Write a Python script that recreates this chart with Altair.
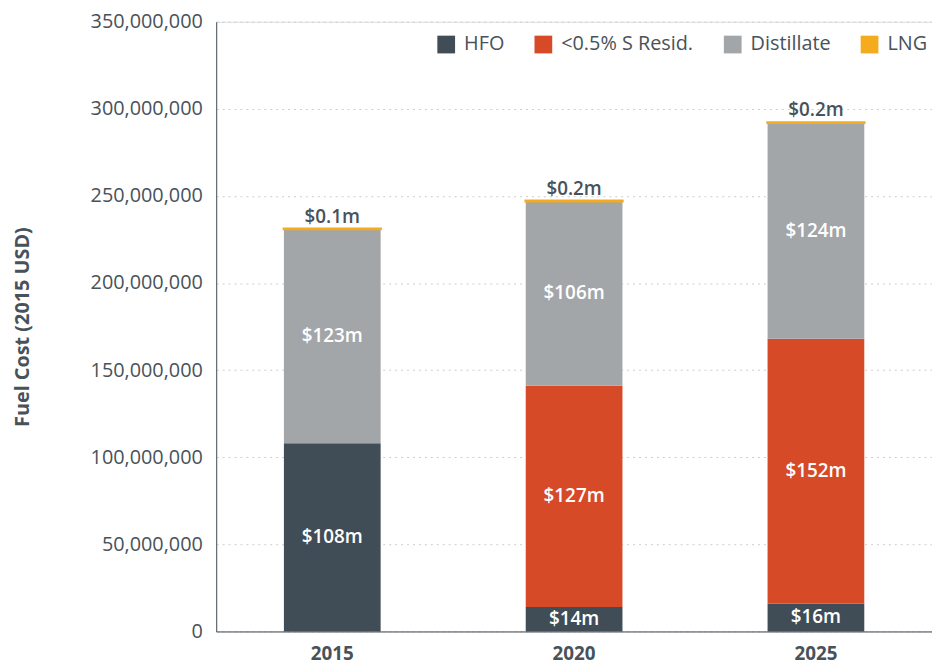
import altair as alt
import pandas as pd

years = ["2015", "2020", "2025"]
fuels = ["HFO", "<0.5% S Resid.", "Distillate", "LNG"]
hfo = [108, 14, 16]
resid = [0, 127, 152]
distillate = [123, 106, 124]
lng = [0.1, 0.2, 0.2]
colors = ["#414d56", "#d64a27", "#a3a6a9", "#f5ab1e"]

series = {"HFO": hfo, "<0.5% S Resid.": resid, "Distillate": distillate, "LNG": lng}
rows = []
for i, y in enumerate(years):
    base = 0.0
    for k, f in enumerate(fuels):
        v = series[f][i]
        rows.append({
            "year": y, "fuel": f, "order": k,
            "lo": base * 1e6, "hi": (base + v) * 1e6,
            "mid": (base + v / 2) * 1e6,
            "label": f"${v:g}m" if v > 0 else "",
        })
        base += v
df = pd.DataFrame(rows)

FONT = "Open Sans"
TXT = "#48525a"

xenc = alt.X("year:N", title=None, sort=years,
             scale=alt.Scale(paddingInner=0.6, paddingOuter=0.28),
             axis=alt.Axis(labelAngle=0, labelFontSize=19, labelFontWeight="bold",
                           labelColor=TXT, labelFont=FONT, ticks=False,
                           domainColor="#48525a", labelPadding=13))

bars = alt.Chart(df).mark_bar().encode(
    x=xenc,
    y=alt.Y("lo:Q", title="Fuel Cost (2015 USD)",
            scale=alt.Scale(domain=[0, 350e6]),
            axis=alt.Axis(values=[i * 50e6 for i in range(8)], format=",.0f",
                          labelFontSize=20, labelColor=TXT, labelFont=FONT,
                          titleFont=FONT, titleFontSize=20, titleFontWeight="bold",
                          titleColor=TXT, titlePadding=58, ticks=False,
                          domainColor="#48525a", labelPadding=14,
                          grid=True, gridDash=[2, 4], gridColor="#cccccc")),
    y2="hi:Q",
    color=alt.Color("fuel:N", sort=fuels, title=None,
                    scale=alt.Scale(domain=fuels, range=colors),
                    legend=alt.Legend(orient="none", legendX=222, legendY=13,
                                      direction="horizontal",
                                      symbolType="square", symbolSize=320,
                                      symbolStrokeWidth=0, labelFontSize=20,
                                      labelFont=FONT, labelColor=TXT,
                                      columnPadding=29, labelOffset=8,
                                      padding=0)),
    stroke=alt.Color("fuel:N", sort=fuels, scale=alt.Scale(domain=fuels, range=colors),
                     legend=None),
    strokeWidth=alt.condition("datum.fuel == 'LNG'", alt.value(2.5), alt.value(0)),
    order="order:Q",
)

inner = alt.Chart(df).transform_filter(
    "datum.fuel != 'LNG' && datum.label != ''"
).mark_text(color="white", fontSize=19, fontWeight=600, font=FONT).encode(
    x=alt.X("year:N", sort=years),
    y=alt.Y("mid:Q"),
    text="label:N",
)

top = alt.Chart(df).transform_filter("datum.fuel == 'LNG'").mark_text(
    color=TXT, fontSize=19, fontWeight=600, font=FONT, dy=-12
).encode(
    x=alt.X("year:N", sort=years),
    y=alt.Y("hi:Q"),
    text="label:N",
)

chart = alt.layer(bars, inner, top).properties(
    width=932, height=658,
    autosize=alt.AutoSizeParams(type="fit", contains="padding"),
    padding={"left": 4, "top": 1, "right": 0, "bottom": 0},
).configure_view(stroke=None).configure(background="white")

chart.save("out.html", embed_options={"renderer": "svg", "actions": False})
